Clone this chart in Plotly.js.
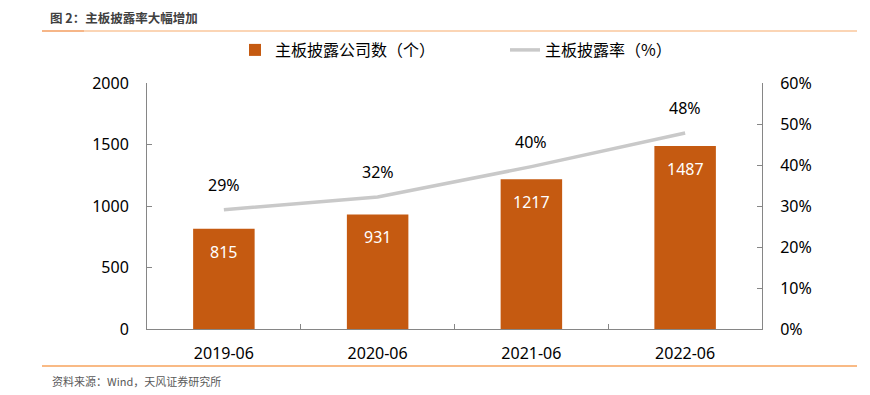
<!DOCTYPE html>
<html>
<head>
<meta charset="utf-8">
<script src="https://cdn.plot.ly/plotly-3.0.1.min.js"></script>
<style>html,body{margin:0;padding:0;background:#fff;}#chart{width:870px;height:395px;}</style>
</head>
<body>
<div id="chart"></div>
<script>
const categories = ['2019-06', '2020-06', '2021-06', '2022-06'];
const companyCounts = [815, 931, 1217, 1487];
const disclosureRate = [0.291, 0.322, 0.396, 0.478];
const rateLabels = ['29%', '32%', '40%', '48%'];
const barName = '主板披露公司数（个）';
const lineName = '主板披露率（%）';
const chartTitle = '图 2：主板披露率大幅增加';
const sourceText = '资料来源：Wind，天风证券研究所';

const baseFont = 'Noto Sans, "Noto Sans CJK SC", sans-serif';
const cjkFont = '"Noto Sans CJK SC", "Noto Sans", sans-serif';

const traces = [
  {
    type: 'bar', x: categories, y: companyCounts, name: barName,
    marker: {color: '#C55A11'}, width: 0.4, hoverinfo: 'x+y'
  },
  {
    type: 'scatter', mode: 'lines', x: categories, y: disclosureRate, name: lineName,
    yaxis: 'y2', line: {color: '#C9C9C9', width: 3.5}
  }
];

const annotations = [];
categories.forEach((c, i) => {
  annotations.push({x: c, y: companyCounts[i], xref: 'x', yref: 'y', text: String(companyCounts[i]),
    showarrow: false, yanchor: 'top', yshift: -10, font: {family: baseFont, size: 16, color: '#ffffff'}});
  annotations.push({x: c, y: disclosureRate[i], xref: 'x', yref: 'y2', text: rateLabels[i],
    showarrow: false, yanchor: 'bottom', yshift: 12, font: {family: baseFont, size: 16, color: '#000000'}});
});
annotations.push({xref: 'paper', yref: 'paper', x: (48-147)/615, y: (329-17)/246, xanchor: 'left', yanchor: 'middle',
  text: '<b>' + chartTitle + '</b>', showarrow: false, font: {family: cjkFont, size: 12.5, color: '#404040'}});
annotations.push({xref: 'paper', yref: 'paper', x: (50-147)/615, y: (329-381)/246, xanchor: 'left', yanchor: 'middle',
  text: sourceText, showarrow: false, font: {family: cjkFont, size: 11, color: '#595959'}});

const shapes = [
  {type: 'line', xref: 'paper', yref: 'paper', x0: (42-147)/615, x1: (857-147)/615, y0: (329-31)/246, y1: (329-31)/246,
    line: {color: '#FBD5B5', width: 2}},
  {type: 'line', xref: 'paper', yref: 'paper', x0: (42-147)/615, x1: (84-147)/615, y0: (329-31)/246, y1: (329-31)/246,
    line: {color: '#F6B688', width: 2}},
  {type: 'line', xref: 'paper', yref: 'paper', x0: (42-147)/615, x1: (857-147)/615, y0: (329-366)/246, y1: (329-366)/246,
    line: {color: '#F7A35C', width: 1.5}}
];

const layout = {
  width: 870, height: 395,
  margin: {l: 147, r: 108, t: 83, b: 66},
  paper_bgcolor: '#ffffff', plot_bgcolor: '#ffffff',
  showlegend: true,
  legend: {orientation: 'h', xref: 'container', yref: 'container', x: 235/870, xanchor: 'left', y: (395-50)/395, yanchor: 'middle',
    font: {family: cjkFont, size: 16, color: '#000000'}, entrywidth: 225, entrywidthmode: 'pixels',
    bgcolor: 'rgba(0,0,0,0)'},
  xaxis: {
    type: 'category', showgrid: false, showline: true, linecolor: '#868686', linewidth: 1,
    ticks: 'inside', tickson: 'boundaries', ticklen: 5, tickcolor: '#868686',
    tickfont: {family: baseFont, size: 16, color: '#000000'}, zeroline: false, ticklabelstandoff: 10
  },
  yaxis: {
    range: [0, 2000], tickvals: [0, 500, 1000, 1500, 2000], showgrid: false, zeroline: false,
    showline: true, linecolor: '#868686', linewidth: 1, ticks: 'inside', ticklen: 5, tickcolor: '#868686',
    tickfont: {family: baseFont, size: 16, color: '#000000'}, ticklabelstandoff: 14
  },
  yaxis2: {
    overlaying: 'y', side: 'right', range: [0, 0.6], tickvals: [0, 0.1, 0.2, 0.3, 0.4, 0.5, 0.6],
    tickformat: '.0%', showgrid: false, zeroline: false, showline: true, linecolor: '#868686', linewidth: 1,
    ticks: 'inside', ticklen: 5, tickcolor: '#868686',
    tickfont: {family: baseFont, size: 16, color: '#000000'}, ticklabelstandoff: 14
  },
  annotations: annotations,
  shapes: shapes,
  bargap: 0.6
};

Plotly.newPlot('chart', traces, layout, {displayModeBar: false, staticPlot: true});
</script>
</body>
</html>
